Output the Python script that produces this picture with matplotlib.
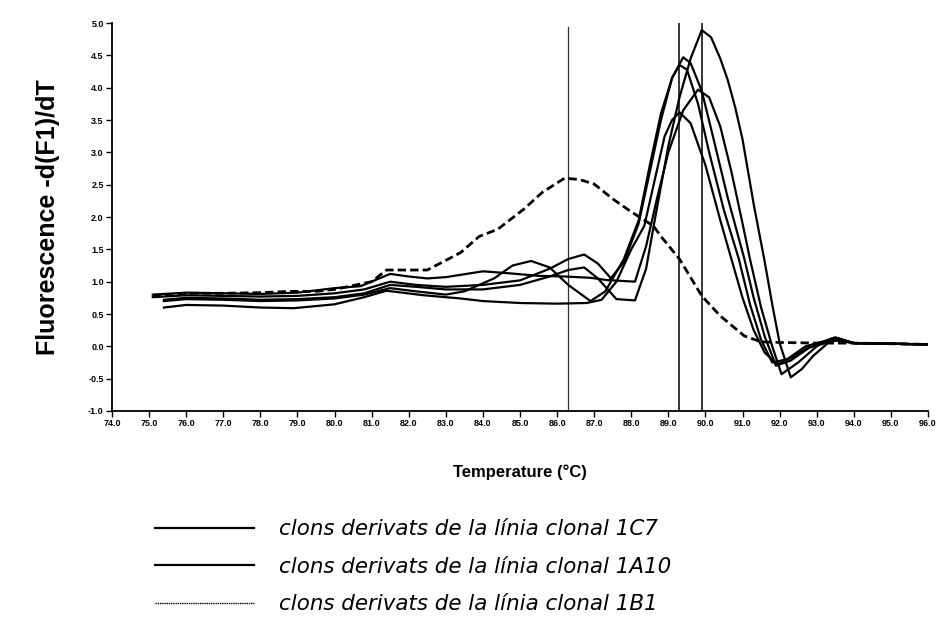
import matplotlib
matplotlib.use("Agg")
import matplotlib.pyplot as plt
from matplotlib.lines import Line2D

# ---- data ----
t_a = [75.4, 76.0, 77.0, 78.0, 79.0, 80.0, 80.8, 81.5, 82.2, 83.0, 84.0, 85.0, 85.8, 86.3, 86.73, 87.1,
       87.6, 88.1, 88.4, 88.6, 89.0, 89.3, 89.6, 89.9, 90.15, 90.4, 90.6, 90.8, 91.0, 91.3, 91.6, 91.8,
       92.0, 92.3, 92.6, 92.9, 93.3, 93.6, 94.0, 95.0, 96.0]
v_a = [0.72, 0.75, 0.74, 0.72, 0.73, 0.76, 0.82, 0.95, 0.92, 0.88, 0.88, 0.95, 1.08, 1.18, 1.22, 1.05,
       0.73, 0.71, 1.2, 1.85, 3.1, 3.85, 4.45, 4.89, 4.78, 4.45, 4.12, 3.7, 3.2, 2.2, 1.3, 0.65,
       0.05, -0.48, -0.35, -0.15, 0.05, 0.12, 0.05, 0.04, 0.03]

t_b = [75.1, 76.0, 77.0, 78.0, 79.0, 80.0, 80.7, 81.5, 82.0, 82.5, 83.0, 84.0, 84.7, 85.5, 86.2, 86.9,
       87.4, 87.8, 88.2, 88.5, 88.8, 89.1, 89.4, 89.6, 89.9, 90.2, 90.6, 91.05, 91.3, 91.6, 91.9,
       92.3, 92.8, 93.3, 93.6, 94.0, 95.0, 96.0]
v_b = [0.80, 0.83, 0.82, 0.81, 0.83, 0.90, 0.93, 1.12, 1.08, 1.05, 1.07, 1.16, 1.13, 1.09, 1.08, 1.06,
       1.02, 1.3, 1.9, 2.7, 3.5, 4.15, 4.47, 4.38, 3.95, 3.25, 2.3, 1.35, 0.75, 0.15, -0.30,
       -0.22, -0.02, 0.06, 0.10, 0.05, 0.04, 0.03]

t_c = [75.1, 76.0, 77.0, 78.0, 79.0, 80.0, 80.8, 81.5, 82.2, 83.0, 84.0, 85.0, 85.8, 86.3, 86.73, 87.1,
       87.5, 88.1, 88.4, 88.7, 89.0, 89.4, 89.8, 90.1, 90.4, 90.7, 91.0, 91.2, 91.5, 91.8, 92.05, 92.5,
       93.0, 93.4, 94.0, 95.0, 96.0]
v_c = [0.76, 0.79, 0.78, 0.77, 0.78, 0.82, 0.88, 1.0, 0.95, 0.92, 0.95, 1.02, 1.2, 1.35, 1.42, 1.28,
       1.02, 1.0, 1.55, 2.3, 3.0, 3.65, 3.97, 3.85, 3.4, 2.7, 1.9, 1.35, 0.6, 0.0, -0.43, -0.25,
       0.0, 0.12, 0.05, 0.04, 0.03]

t_d = [75.4, 76.0, 77.0, 78.0, 79.0, 80.0, 80.8, 81.5, 82.2, 83.0, 83.5, 84.3, 84.8, 85.3, 85.8, 86.3,
       86.9, 87.3, 87.8, 88.2, 88.5, 88.8, 89.1, 89.3, 89.5, 89.8, 90.1, 90.5, 90.9, 91.2, 91.5, 91.8,
       92.2, 92.7, 93.2, 93.5, 94.0, 95.0, 96.0]
v_d = [0.70, 0.73, 0.72, 0.70, 0.71, 0.74, 0.80, 0.90, 0.85, 0.80, 0.85, 1.05, 1.25, 1.32, 1.22, 0.95,
       0.70, 0.85, 1.35, 1.95, 2.8, 3.6, 4.15, 4.35, 4.28, 3.75, 3.0, 2.1, 1.35, 0.65, 0.1, -0.25,
       -0.2, 0.0, 0.08, 0.14, 0.05, 0.04, 0.03]

t_e = [75.4, 76.0, 77.0, 78.0, 78.9, 80.0, 80.8, 81.4, 82.4, 83.4, 84.0, 85.0, 86.0, 86.8, 87.2, 87.6,
       88.0, 88.35, 88.9, 89.1, 89.3, 89.6, 90.0, 90.4, 90.7, 91.0, 91.3, 91.6, 91.95, 92.4, 92.9, 93.4,
       94.0, 95.0, 96.0]
v_e = [0.60, 0.64, 0.63, 0.60, 0.59, 0.65, 0.76, 0.86, 0.79, 0.74, 0.70, 0.67, 0.66, 0.67, 0.72, 1.0,
       1.5, 1.86, 3.25, 3.5, 3.62, 3.45, 2.8, 1.95, 1.35, 0.75, 0.25, -0.1, -0.28, -0.15, 0.03, 0.10,
       0.05, 0.04, 0.03]

t_dash = [75.1, 76.0, 77.0, 78.0, 78.8, 79.5, 80.0, 81.0, 81.4, 82.5, 83.4, 83.9, 84.4, 85.1, 85.6, 86.2,
          86.6, 87.0, 87.5, 88.0, 88.3, 88.6, 88.8, 89.3, 89.9, 90.4, 91.05, 91.5, 92.0, 93.0, 94.0, 95.0, 96.0]
v_dash = [0.77, 0.82, 0.82, 0.83, 0.85, 0.85, 0.88, 1.0, 1.18, 1.18, 1.45, 1.70, 1.81, 2.12, 2.38, 2.60,
          2.58, 2.51, 2.28, 2.08, 1.97, 1.86, 1.70, 1.35, 0.78, 0.47, 0.16, 0.07, 0.06, 0.05, 0.05, 0.04, 0.03]

vlines_t = [86.3, 89.3, 89.9]
vlines_top = [4.94, 5.03, 5.03]

x_ticks = [74.0 + i for i in range(23)]
y_ticks = [-1.0, -0.5, 0.0, 0.5, 1.0, 1.5, 2.0, 2.5, 3.0, 3.5, 4.0, 4.5, 5.0]

legend_labels = ["clons derivats de la línia clonal 1C7",
                 "clons derivats de la línia clonal 1A10",
                 "clons derivats de la línia clonal 1B1"]

# ---- figure ----
fig = plt.figure(figsize=(9.39, 6.23), dpi=100)
ax = fig.add_axes([112 / 939, 1 - 411 / 623, (928 - 112) / 939, (411 - 23) / 623])

for t, v in [(t_a, v_a), (t_b, v_b), (t_c, v_c), (t_d, v_d), (t_e, v_e)]:
    ax.plot(t, v, color="black", lw=1.6, solid_joinstyle="round")
ax.plot(t_dash, v_dash, color="black", lw=2.0, ls=(0, (3, 1.5)))

for xv, top in zip(vlines_t, vlines_top):
    ax.plot([xv, xv], [-1.0, top], color="black", lw=0.9 if xv < 88 else 1.1, alpha=0.8 if xv < 88 else 1.0)

ax.set_xlim(74.0, 96.0)
ax.set_ylim(-1.0, 5.0)
ax.spines["top"].set_visible(False)
ax.spines["right"].set_visible(False)
ax.spines["left"].set_linewidth(1.3)
ax.spines["bottom"].set_linewidth(1.3)
ax.set_xticks(x_ticks)
ax.set_xticklabels([f"{x:.1f}" for x in x_ticks], fontsize=6.5, fontweight="bold",
                   family="Liberation Sans")
ax.set_yticks(y_ticks)
ax.set_yticklabels([f"{y:.1f}" for y in y_ticks], fontsize=6.5, fontweight="bold",
                   family="Liberation Sans")
ax.tick_params(axis="both", direction="out", length=4, width=1, pad=2)

ax.set_xlabel("Temperature (°C)", fontsize=12, fontweight="bold", family="Liberation Sans", labelpad=26)
ax.set_ylabel("Fluorescence -d(F1)/dT", fontsize=18, fontweight="bold", family="Liberation Sans",
              labelpad=20)

handles = [Line2D([], [], color="black", lw=1.6),
           Line2D([], [], color="black", lw=1.6),
           Line2D([], [], color="black", lw=1.0, ls=(0, (1, 0.6)))]
fig.legend(handles, legend_labels, loc="upper left", bbox_to_anchor=(136 / 939, 1 - 500 / 623),
           frameon=False, handlelength=4.6, handletextpad=1.2, labelspacing=0.82,
           prop={"family": "DejaVu Sans", "style": "italic", "size": 15.4})

fig.savefig("out.png", dpi=100)
